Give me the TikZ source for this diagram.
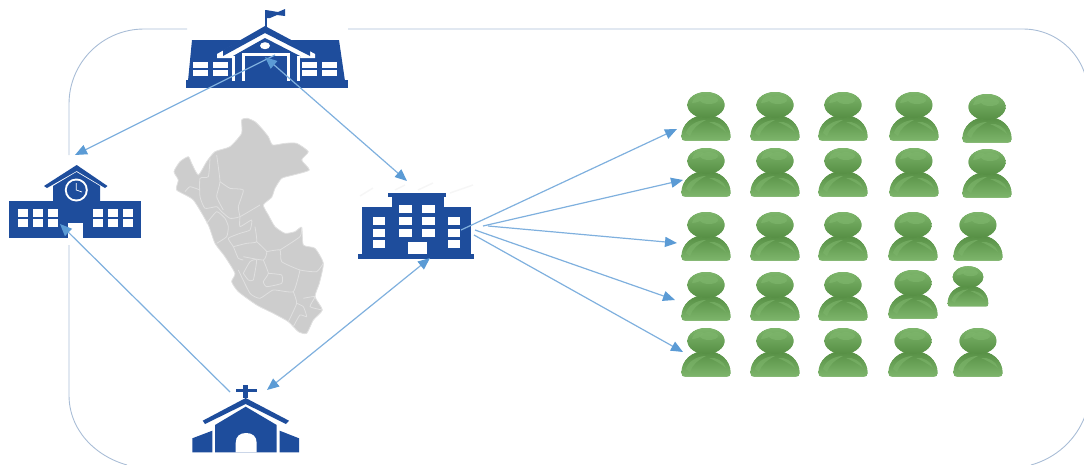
\documentclass[tikz,border=0pt]{standalone}
\usetikzlibrary{arrows.meta}
\definecolor{iconblue}{HTML}{1E4D9C}
\definecolor{linkblue}{HTML}{7FB0DE}
\definecolor{tipblue}{HTML}{5B9BD5}
\definecolor{framecol}{HTML}{A9BDD6}
\definecolor{mapgray}{HTML}{CDCDCD}
\definecolor{mapline}{HTML}{E0E0E0}
\definecolor{mangreen}{HTML}{619F4E}
\definecolor{manlight}{HTML}{7DB56B}
\definecolor{mandark}{HTML}{568F44}
\tikzset{
  link/.style={draw=linkblue,line width=1.2pt,-{Triangle[length=12pt,width=10pt,color=tipblue]}},
  linkboth/.style={draw=linkblue,line width=1.2pt,{Triangle[length=12pt,width=10pt,color=tipblue]}-{Triangle[length=12pt,width=10pt,color=tipblue]}},
  frameline/.style={draw=framecol,line width=0.9pt},
  icon/.style={fill=iconblue,draw=none},
  win/.style={fill=white,draw=none},
  manpic/.pic={
    \fill[mangreen,top color=mandark,bottom color=manlight] (-24.5,32) .. controls (-24.5,19) and (-14,10) .. (0,10)
       .. controls (14,10) and (24.5,19) .. (24.5,32)
       .. controls (24.5,35) and (23,35.5) .. (21,35.5) -- (-21,35.5)
       .. controls (-23,35.5) and (-24.5,35) .. (-24.5,32) -- cycle;
    \fill[mangreen,top color=manlight,bottom color=mandark] (0,0) ellipse [x radius=18.5pt,y radius=13pt];
    \fill[manlight,opacity=.7] (-14,-2) .. controls (-12,-10) and (-4,-11) .. (-2,-8) .. controls (-4,-4) and (-10,-2) .. (-14,-2) -- cycle;
    \fill[manlight,opacity=.7] (3,-5) ellipse [x radius=9pt,y radius=4pt];
    \fill[manlight,opacity=.6] (-20,28) .. controls (-18,20) and (-8,15) .. (0,15) .. controls (-8,19) and (-14,24) .. (-16,31) -- cycle;
    \fill[manlight,opacity=.6] (3,17) .. controls (10,16) and (18,20) .. (20,27) .. controls (14,22) and (8,19) .. (3,17) -- cycle;
  }
}
\begin{document}
\begin{tikzpicture}[x=1pt,y=-1pt]
\useasboundingbox (0,0) rectangle (1084,464);
\clip (0,0) rectangle (1084,464);
% frame
\draw[frameline,rounded corners=75pt] (187,29) -- (69,29) -- (69,155);
\draw[frameline] (69,245) -- (69,395) .. controls (69,430) and (95,456) .. (127,465);
\draw[frameline,rounded corners=65pt] (348,29) -- (1088,29) -- (1088,200);
\draw[frameline] (1085,416) .. controls (1076,440) and (1056,458) .. (1031,465);
% map
\begin{scope}[xshift=160pt,yshift=-110pt,x=0.3333pt,y=-0.3333pt]
\fill[mapgray,draw=mapline,line width=0.8pt,line join=round]
 plot[smooth cycle,tension=0.35] coordinates {(245,30)(262,25)(285,35)(305,55)(325,80)(338,105)(375,100)(410,100)(445,125)(425,150)(448,180)(400,195)(365,205)(345,235)(335,262)(310,285)(325,315)(345,350)(375,370)(405,365)(425,352)(430,405)(465,415)(490,460)(478,520)(465,560)(487,600)(460,630)(440,670)(415,665)(385,635)(340,610)(290,585)(235,545)(215,515)(225,490)(195,440)(165,400)(145,345)(100,270)(50,240)(55,210)(42,185)(60,155)(85,140)(95,160)(115,195)(140,155)(165,125)(210,110)(245,70)};
\begin{scope}[draw=mapline,line width=0.8pt,line join=round]
\draw plot[smooth,tension=0.3] coordinates {(150,145)(145,200)(120,205)(120,260)(135,295)(170,290)(185,305)(210,325)(240,320)(300,285)};
\draw plot[smooth,tension=0.3] coordinates {(170,135)(180,215)(170,260)(190,300)};
\draw plot[smooth,tension=0.3] coordinates {(180,215)(210,235)(250,240)(235,290)(240,320)};
\draw plot[smooth,tension=0.3] coordinates {(75,245)(90,230)(120,240)};
\draw plot[smooth,tension=0.3] coordinates {(140,340)(170,305)(195,325)(205,350)(200,380)(170,400)};
\draw plot[smooth,tension=0.3] coordinates {(240,320)(240,350)(275,330)(270,360)(240,370)(205,385)(220,410)(235,445)(250,450)};
\draw plot[smooth,tension=0.3] coordinates {(285,350)(290,395)(260,400)(220,410)};
\draw plot[smooth,tension=0.3] coordinates {(290,395)(320,425)(310,450)(250,440)};
\draw plot[smooth,tension=0.3] coordinates {(320,425)(360,420)(365,455)(420,480)(470,485)(490,460)};
\draw plot[smooth,tension=0.3] coordinates {(360,420)(420,380)(425,352)};
\draw plot[smooth,tension=0.3] coordinates {(310,450)(325,490)(310,515)(320,530)(365,520)(365,495)(325,490)};
\draw plot[smooth,tension=0.3] coordinates {(420,480)(400,545)(340,540)(300,565)(270,550)(235,480)};
\draw plot[smooth,tension=0.3] coordinates {(250,490)(270,455)(290,450)(280,510)(265,510)(250,490)};
\draw plot[smooth,tension=0.3] coordinates {(400,545)(410,580)(385,635)};
\draw plot[smooth,tension=0.3] coordinates {(410,580)(430,590)(440,620)(420,615)(400,650)};
\draw plot[smooth,tension=0.3] coordinates {(430,565)(465,560)(450,590)(487,600)};
\end{scope}
\end{scope}
% top school
\fill[icon] (186,80) rectangle (348,88);
\fill[icon] (188,81) -- (192,40) -- (339,40) -- (345,81) -- cycle;
\fill[icon] (265,10) rectangle (266.5,28);
\fill[icon] (266,10) -- (272,11) -- (278,12) -- (285,9) -- (285,16) -- (277,15) -- (270,18) -- (266,18) -- cycle;
\fill[white] (217,54) -- (265,27) -- (315,54) -- (315,58) -- (217,58) -- cycle;
\fill[icon] (223,50) -- (265,26) -- (310,50) -- (310,56) -- (265,33) -- (223,56) -- cycle;
\fill[icon] (233,56) -- (265,38) -- (300,56) -- (300,81) -- (233,81) -- cycle;
\fill[white] (232,56) rectangle (235,81);
\fill[white] (297,56) rectangle (300,81);
\fill[white] (241.5,53) rectangle (289.5,81);
\fill[icon] (244.5,56) rectangle (286.5,81);
\fill[white] (265,45.7) ellipse [x radius=5pt,y radius=3.5pt];
\foreach \wx in {193,213,302,322}{\foreach \wy in {62,70}{\fill[win] (\wx,\wy) rectangle ++(15,6);}}
% left school
\fill[icon] (9.3,200.7) rectangle (140.7,238.3);
\fill[icon] (53,205) -- (53,186) -- (76.5,172) -- (100,186) -- (100,205) -- cycle;
\fill[icon] (44,186) -- (76.7,165) -- (107.5,186) -- (105,188) -- (76.7,171) -- (47,188) -- cycle;
\fill[white] (76.3,190) circle (11.5pt);
\fill[icon] (76.3,190) circle (9.5pt);
\draw[white,line width=0.7pt] (76.3,183) -- (76.3,190) -- (82,192);
\foreach \wx in {18.3,33.3,48.3,92.7,107.7,122.7}{\foreach \wy in {209.3,219.3}{\fill[win] (\wx,\wy) rectangle ++(10,7.4);}}
\fill[win] (68.3,222.7) rectangle (83.3,238.5);
% centre building
\foreach \ha/\hb/\hc/\hd in {360/196/373/188,395/190/405/185,418/190/433/183,450/193/473/185}{\draw[gray!7,line width=1.5pt] (\ha,\hb) -- (\hc,\hd);}
\fill[icon] (358,254) rectangle (474,258.7);
\fill[icon] (362,207) rectangle (470.7,254.5);
\fill[icon] (391.7,196) rectangle (444,208);
\fill[icon] (388,193) rectangle (446,197);
\foreach \wx in {372.7,447.7}{\foreach \wy in {216.7,229,240}{\fill[win] (\wx,\wy) rectangle ++(12.7,8);}}
\foreach \wx in {399.3,422.3}{\foreach \wy in {205,216.7,229}{\fill[win] (\wx,\wy) rectangle ++(12.7,8);}}
\fill[win] (408.3,242.3) rectangle (426.7,254);
% church
\fill[icon] (243.3,385) rectangle (248.3,398);
\fill[icon] (235.7,389) rectangle (256.7,392.3);
\fill[icon] (245.7,398) -- (289,420.7) -- (286,424) -- (245.7,404) -- (205,424) -- (202.7,420.7) -- cycle;
\fill[icon] (215,425) -- (245.7,406.7) -- (276.7,425) -- (276.7,452.3) -- (215,452.3) -- cycle;
\fill[win] (235.7,452.4) -- (235.7,443) .. controls (235.7,436) and (240,433) .. (246.2,433) .. controls (252,433) and (256.7,436) .. (256.7,443) -- (256.7,452.4) -- cycle;
\fill[icon] (192.3,438.3) -- (212.3,430.7) -- (212.3,452.3) -- (192.3,452.3) -- cycle;
\fill[icon] (279.7,430.7) -- (299,438.3) -- (299,452.3) -- (279.7,452.3) -- cycle;
% people
\foreach \mx/\my in {706/105,775/105,843/105,914/105,987/107,
  706/161,775/161,843/161,914/161,987/162,
  706/225,775/225,843/225,913/225,978/225,
  706/285,775/285,843/285,913/283,
  706/341,775/341,843/341,913/341,978/341}{\pic at (\mx,\my) {manpic};}
\pic[scale=0.83] at (968,277) {manpic};
% connector anchors
\coordinate (topA) at (275,55);
\coordinate (topB) at (265,57);
\coordinate (leftT) at (75,155);
\coordinate (leftB) at (60,224);
\coordinate (midT) at (407,181);
\coordinate (midB) at (430,258);
\coordinate (chL) at (230,392);
\coordinate (chR) at (267,390);
\coordinate (fan1) at (461,230);
\coordinate (fan2) at (483,226);
\coordinate (fan3) at (488,226);
\coordinate (fan4) at (475,230);
\coordinate (fan5) at (474,235);
\coordinate (man1) at (677,129);
\coordinate (man2) at (683,180);
\coordinate (man3) at (677,243);
\coordinate (man4) at (675,300);
\coordinate (man5) at (683,352);
\draw[link] (topA) -- (leftT);
\draw[linkboth] (topB) -- (midT);
\draw[link] (chL) -- (leftB);
\draw[linkboth] (midB) -- (chR);
\draw[link] (fan1) -- (man1);
\draw[link] (fan2) -- (man2);
\draw[link] (fan3) -- (man3);
\draw[link] (fan4) -- (man4);
\draw[link] (fan5) -- (man5);
\end{tikzpicture}
\end{document}
